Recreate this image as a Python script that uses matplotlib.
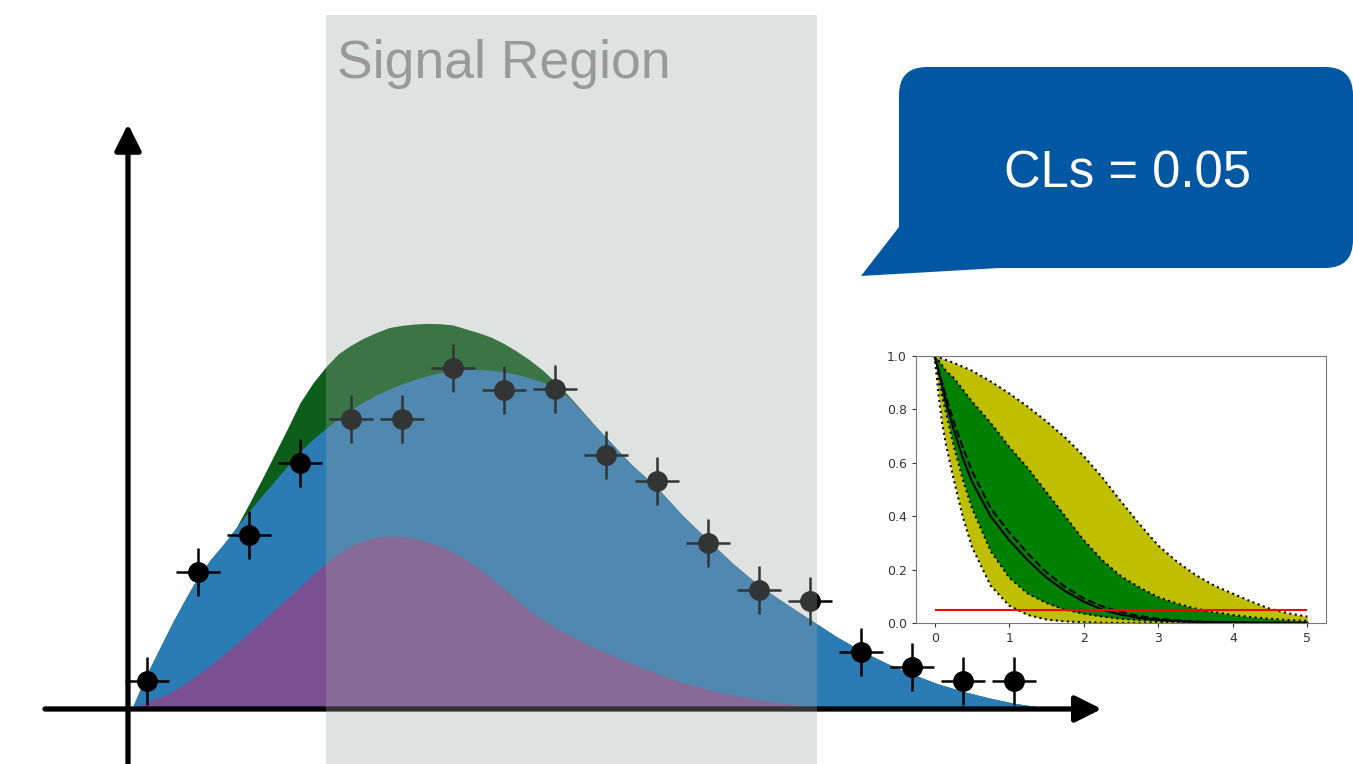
import numpy as np
import matplotlib.pyplot as plt
from matplotlib.patches import FancyBboxPatch, Polygon

# --- main distribution (x in bins, y in events) ---
curve_x = [-0.3, 0.0, 0.25, 0.5, 0.75, 1.0, 1.25, 1.5, 1.75, 2.0, 2.25, 2.5, 2.75,
           3.0, 3.25, 3.5, 3.75, 4.0, 4.25, 4.5, 4.75, 5.0, 5.25, 5.5, 5.75,
           6.0, 6.25, 6.5, 6.75, 7.0, 7.25, 7.5, 7.75, 8.0, 8.25, 8.5, 8.75, 9.0,
           9.5, 10.0, 10.5, 11.0, 11.5, 12.0, 12.5, 13.0, 13.5, 14.0, 14.5, 15.0,
           15.5, 16.0, 16.5, 17.0, 17.5, 18.0]
bkg_total = [0, 11, 19, 27, 34.3, 41.3, 46.8, 51.5, 56.7, 61.8, 66.6, 71.2, 75.9,
             80.5, 84.3, 87.6, 90.7, 93.5, 96.0, 98.2, 100.0, 101.6, 103.0, 104.2, 105.1,
             105.7, 106.1, 106.1, 105.8, 105.4, 104.6, 103.5, 102.2, 100.4, 97.6, 93.5, 89.0, 84.8,
             76.4, 69.2, 60.5, 52.8, 45.3, 38.6, 33.2, 28, 22.8, 18.2, 14.3, 10.9,
             7.9, 5.5, 3.5, 1.8, 0.6, 0]
bkg_main = [0, 2.2, 3.6, 5.5, 8.0, 10.8, 13.8, 17.0, 20.3, 23.8, 27.4, 31.0, 34.6,
            38.2, 41.9, 45.5, 48.6, 51.0, 52.7, 53.7, 54.1, 53.9, 53.2, 52.2, 50.9,
            49.0, 46.8, 44.0, 41.0, 37.6, 34.2, 30.8, 27.9, 25.4, 23.3, 21.3, 19.4, 17.6,
            14.2, 11.1, 8.3, 6.1, 4.3, 2.9, 1.7, 0.9, 0.4, 0.1, 0, 0,
            0, 0, 0, 0, 0, 0]
signal = [0, 0, 0, 0, 0, 0, 0, 0, 0, 2.3, 5.1, 8.4, 11.6,
          15.2, 17.5, 19.2, 20.3, 20.2, 19.9, 19.5, 19.2, 18.3, 17.3, 16.3, 15.3,
          14.3, 12.7, 11.5, 10.4, 8.8, 7.2, 5.6, 3.8, 1.9, 0.6, 0.3, 0.2, 0.1,
          0, 0, 0, 0, 0, 0, 0, 0, 0, 0, 0, 0,
          0, 0, 0, 0, 0, 0]

data_x = np.arange(18)
data_y = [8.75, 42.9, 54.3, 77.0, 90.7, 90.7, 106.7, 99.8, 99.9,
          79.3, 71.25, 52.0, 37.2, 33.75, 17.8, 13.2, 8.75, 8.75]
data_yerr = 7.5
data_xerr = 0.43

# --- CLs scan for the inset ---
mu = [0, 0.05, 0.1, 0.15, 0.25, 0.375, 0.5, 0.75, 1.0, 1.25, 1.5, 1.75, 2.0,
      2.25, 2.5, 2.75, 3.0, 3.25, 3.5, 3.75, 4.0, 4.25, 4.5, 4.75, 5.0]
cls_obs = [1.0, 0.945, 0.89, 0.83, 0.73, 0.62, 0.53, 0.40, 0.31, 0.235, 0.17, 0.12, 0.08,
           0.05, 0.031, 0.019, 0.011, 0.007, 0.004, 0.003, 0.002, 0.001, 0.001, 0.0, 0.0]
cls_exp = [1.0, 0.95, 0.90, 0.85, 0.76, 0.66, 0.57, 0.43, 0.34, 0.26, 0.19, 0.135, 0.092,
           0.062, 0.041, 0.026, 0.016, 0.01, 0.006, 0.004, 0.003, 0.002, 0.001, 0.001, 0.0]
exp_p1 = [1.0, 0.985, 0.965, 0.945, 0.92, 0.875, 0.83, 0.75, 0.66, 0.58, 0.49, 0.40, 0.31,
          0.235, 0.175, 0.133, 0.097, 0.073, 0.054, 0.041, 0.03, 0.022, 0.016, 0.011, 0.008]
exp_m1 = [1.0, 0.92, 0.85, 0.79, 0.67, 0.54, 0.43, 0.27, 0.17, 0.11, 0.075, 0.05, 0.035,
          0.024, 0.016, 0.011, 0.007, 0.005, 0.003, 0.002, 0.001, 0.001, 0.0, 0.0, 0.0]
exp_p2 = [1.0, 0.997, 0.99, 0.985, 0.975, 0.96, 0.945, 0.905, 0.86, 0.81, 0.755, 0.695, 0.625,
          0.545, 0.455, 0.37, 0.29, 0.23, 0.18, 0.14, 0.11, 0.08, 0.053, 0.036, 0.024]
exp_m2 = [1.0, 0.86, 0.75, 0.67, 0.545, 0.40, 0.285, 0.14, 0.065, 0.03, 0.013, 0.006, 0.003,
          0.001, 0.0, 0.0, 0.0, 0.0, 0.0, 0.0, 0.0, 0.0, 0.0, 0.0, 0.0]
cls_level = 0.05

fig = plt.figure(figsize=(13.53, 7.64), dpi=100)

ax = fig.add_axes([0, 0, 1, 1])
ax.set_xlim(-2.882, 23.647)
ax.set_ylim(-17.19, 221.56)
ax.axis('off')

tot = np.array(bkg_total)
ax.fill_between(curve_x, 0, tot + np.array(signal), color='#0d5e1a', lw=0, zorder=1)
ax.fill_between(curve_x, 0, tot, color='#2b7bb5', lw=0, zorder=1.1)
ax.fill_between(curve_x, 0, bkg_main, color='#7b5092', lw=0, zorder=1.2)

ax.errorbar(data_x, data_y, yerr=data_yerr, xerr=data_xerr, fmt='o', color='k',
            ms=14, elinewidth=1.8, capsize=0, zorder=4)

# axis arrows
arrow = dict(arrowstyle='-|>,head_length=0.4,head_width=0.2', mutation_scale=40,
             lw=3.8, color='k', shrinkA=0, shrinkB=0)
ax.annotate('', xy=(18.72, 0), xytext=(-2.0, 0), arrowprops=arrow, zorder=3)
ax.annotate('', xy=(-0.3725, 182.8), xytext=(-0.3725, -17.19), arrowprops=arrow, zorder=3)

# signal region band on top
ax.axvspan(3.51, 13.14, ymin=0, ymax=0.9804, color='#9fa6a6', alpha=0.32, lw=0, zorder=5)
ax.text(3.73, 197.2, 'Signal Region', fontsize=38.5, color='#999999',
        family='Liberation Sans', va='baseline', zorder=6)

# speech bubble
ov = fig.add_axes([0, 0, 1, 1])
ov.set_xlim(0, 1353)
ov.set_ylim(764, 0)
ov.axis('off')
bubble_c = '#0257a3'
ov.add_patch(FancyBboxPatch((899, 67), 454, 201, boxstyle='round,pad=0,rounding_size=28',
                            fc=bubble_c, ec='none'))
ov.add_patch(Polygon([(899, 200), (899, 227), (861, 276), (1000, 268), (1000, 200)],
                     closed=True, fc=bubble_c, ec='none'))
ov.text(1128, 187, 'CLs = 0.05', fontsize=36.5, color='white', family='Liberation Sans',
        ha='center', va='baseline')

# inset CLs plot
ins = fig.add_axes([916 / 1353, 141 / 764, 410 / 1353, 267 / 764])
ins.fill_between(mu, exp_m2, exp_p2, color='y', lw=0)
ins.fill_between(mu, exp_m1, exp_p1, color='g', lw=0)
for band in (exp_p2, exp_m2, exp_p1, exp_m1):
    ins.plot(mu, band, 'k:', lw=1.5)
ins.plot(mu, cls_exp, 'k--', lw=1.5)
ins.plot(mu, cls_obs, 'k-', lw=1.5)
ins.hlines(cls_level, mu[0], mu[-1], colors='r', lw=1.5)
ins.set_xlim(-0.25, 5.25)
ins.set_ylim(0, 1)
ins.set_xticks([0, 1, 2, 3, 4, 5])
ins.set_yticks([0.0, 0.2, 0.4, 0.6, 0.8, 1.0])
ins.tick_params(labelsize=9, colors='#333333', length=3, width=0.8)
for s in ins.spines.values():
    s.set_color('#777777')

fig.savefig('out.png', dpi=100)
